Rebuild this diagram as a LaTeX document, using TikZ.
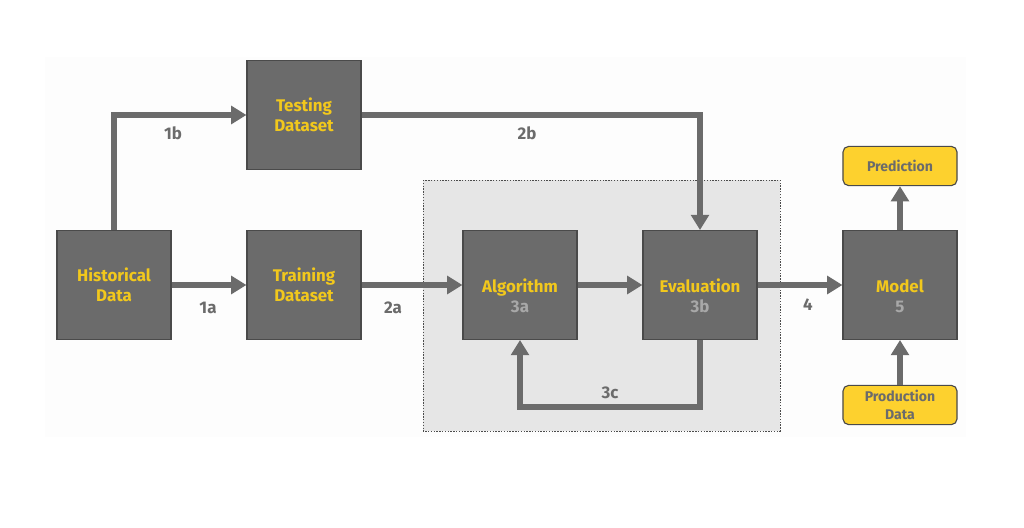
\documentclass[tikz,border=0pt]{standalone}
\usepackage{fontspec}
\setmainfont{Fira Sans}
\usepackage{tikz}
\usetikzlibrary{positioning, arrows.meta, calc, backgrounds}

\definecolor{boxgray}{HTML}{6B6B6B}
\definecolor{edgegray}{HTML}{4A4A4A}
\definecolor{txtyellow}{HTML}{F2C81C}
\definecolor{numgray}{HTML}{A8A8A8}
\definecolor{fillyellow}{HTML}{FDD12E}
\definecolor{panelgray}{HTML}{E6E6E6}

\begin{document}
\begin{tikzpicture}[
        x=0.025cm, y=-0.025cm,
        font=\fontsize{12}{14.5}\selectfont\bfseries,
        stage/.style={draw=edgegray, fill=boxgray, line width=0.8pt, minimum width=2.85cm, minimum height=2.72cm, align=center, text=txtyellow, inner sep=0pt},
        io/.style={draw=edgegray, fill=fillyellow, line width=0.8pt, rounded corners=4pt, minimum width=2.85cm, minimum height=0.98cm, align=center, text=boxgray, inner sep=0pt, font=\fontsize{10}{13}\selectfont\bfseries},
        flow/.style={-{Triangle[length=0.38cm, width=0.44cm]}, line width=4.2pt, draw=boxgray},
        lbl/.style={text=boxgray, font=\fontsize{12}{15}\selectfont\bfseries},
    ]
    \useasboundingbox (0,0) rectangle (1024,527);
    \fill[black!0.8] (45,57) rectangle (966,437);

    % Training panel
    \draw[black!70, dash pattern=on 1pt off 1pt, fill=panelgray] (423,180) rectangle (780,431);

    % Stages
    \node[stage] (hist) at (114,285) {Historical\\Data};
    \node[stage] (train) at (304,285) {Training\\Dataset};
    \node[stage] (test) at (304,115) {Testing\\Dataset};
    \node[stage] (algo) at (520,285) {\strut\\Algorithm\\\textcolor{numgray}{3a}};
    \node[stage] (eval) at (700,285) {\strut\\Evaluation\\\textcolor{numgray}{3b}};
    \node[stage] (model) at (900,285) {\strut\\Model\\\textcolor{numgray}{5}};

    % Inputs and outputs
    \node[io] (pred) at (900,166) {Prediction};
    \node[io] (prod) at (900,405) {Production\\Data};

    % Flows
    \draw[flow] (hist.north) |- (test.west);
    \draw[flow] (hist.east) -- (train.west);
    \draw[flow] (test.east) -| (eval.north);
    \draw[flow] (train.east) -- (algo.west);
    \draw[flow] (algo.east) -- (eval.west);
    \draw[flow] (eval.south) -- ++(0,67) coordinate (loop) -| (algo.south);
    \draw[flow] (eval.east) -- (model.west);
    \draw[flow] (model.north) -- (pred.south);
    \draw[flow] (prod.north) -- (model.south);

    % Step labels
    \node[lbl] (l1b) at (173,133) {1b};
    \node[lbl] (l1a) at (208,308) {1a};
    \node[lbl] (l2a) at (393,308) {2a};
    \node[lbl] (l2b) at (527,133) {2b};
    \node[lbl] (l3c) at (610,393) {3c};
    \node[lbl] (l4) at (808,305) {4};
\end{tikzpicture}
\end{document}
